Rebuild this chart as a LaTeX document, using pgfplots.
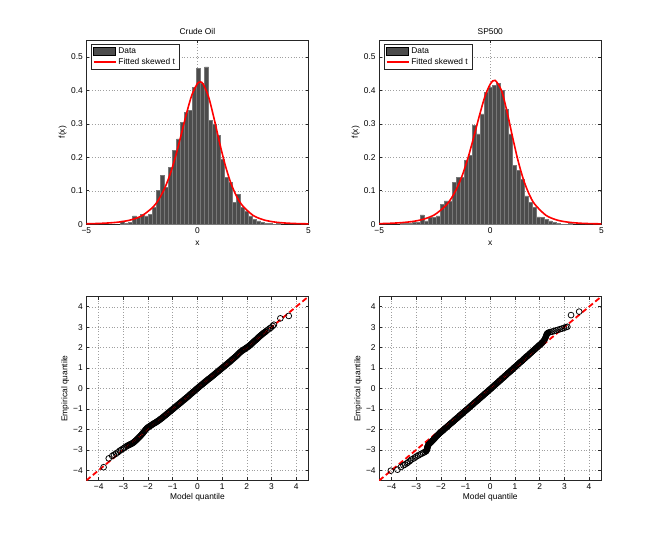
\documentclass[border=0pt]{standalone}
\usepackage{fontspec}
\setmainfont{Liberation Sans}
\usepackage{pgfplots}
\pgfplotsset{compat=1.18}
\usepackage{pgfplotstable}

\definecolor{barfill}{rgb}{0.30,0.30,0.30}
\definecolor{baredge}{rgb}{0.47,0.47,0.47}
\newcommand{\lbl}{\fontsize{8.4}{9.5}\selectfont}

% histogram bins: left edge, density (last row closes the final bin)
\pgfplotstableread{
x y
-3.45 0.010
-3.27 0.003
-3.09 0.005
-2.91 0.025
-2.73 0.020
-2.55 0.030
-2.37 0.025
-2.19 0.030
-2.01 0.050
-1.83 0.100
-1.65 0.145
-1.47 0.110
-1.29 0.170
-1.11 0.220
-0.93 0.255
-0.75 0.305
-0.57 0.335
-0.39 0.340
-0.21 0.410
-0.03 0.465
0.15 0.420
0.33 0.470
0.51 0.310
0.69 0.300
0.87 0.265
1.05 0.195
1.23 0.140
1.41 0.125
1.59 0.065
1.77 0.090
1.95 0.050
2.13 0.040
2.31 0.025
2.49 0.015
2.67 0.010
2.85 0.005
3.03 0.003
3.21 0.002
3.39 0.000
3.57 0.002
3.75 0.000
}\oilhist

\pgfplotstableread{
x y
-4.06 0.002
-3.88 0.003
-3.70 0.003
-3.52 0.005
-3.34 0.005
-3.16 0.028
-2.98 0.010
-2.80 0.020
-2.62 0.020
-2.44 0.025
-2.26 0.060
-2.08 0.070
-1.90 0.070
-1.72 0.125
-1.54 0.140
-1.36 0.140
-1.18 0.190
-1.00 0.205
-0.82 0.295
-0.64 0.270
-0.46 0.330
-0.28 0.395
-0.10 0.410
0.08 0.415
0.26 0.420
0.44 0.400
0.62 0.345
0.80 0.270
0.98 0.175
1.16 0.160
1.34 0.135
1.52 0.085
1.70 0.065
1.88 0.050
2.06 0.022
2.24 0.020
2.42 0.015
2.60 0.010
2.78 0.005
2.96 0.002
3.14 0.000
3.32 0.000
3.50 0.003
3.68 0.000
}\sphist

% fitted skewed t densities
\pgfplotstableread{
x y
-5.00 0.0013
-4.50 0.0021
-4.00 0.0037
-3.50 0.0067
-3.00 0.0128
-2.50 0.0252
-2.00 0.0510
-1.75 0.0729
-1.50 0.1035
-1.25 0.1450
-1.00 0.1984
-0.75 0.2619
-0.50 0.3284
-0.25 0.3860
0.00 0.4202
0.13 0.4250
0.25 0.4200
0.50 0.3811
0.75 0.3159
1.00 0.2431
1.25 0.1770
1.50 0.1240
1.75 0.0850
2.00 0.0577
2.50 0.0266
3.00 0.0126
3.50 0.0063
4.00 0.0033
4.50 0.0018
5.00 0.0010
}\oilfit

\pgfplotstableread{
x y
-5.00 0.0016
-4.50 0.0027
-4.00 0.0046
-3.50 0.0081
-3.00 0.0150
-2.50 0.0286
-2.00 0.0557
-1.75 0.0778
-1.50 0.1080
-1.25 0.1480
-1.00 0.1990
-0.75 0.2590
-0.50 0.3220
-0.25 0.3800
0.00 0.4190
0.21 0.4300
0.50 0.4000
0.75 0.3370
1.00 0.2610
1.25 0.1895
1.50 0.1318
1.75 0.0893
2.00 0.0598
2.50 0.0268
3.00 0.0124
3.50 0.0061
4.00 0.0031
4.50 0.0017
5.00 0.0010
}\spfit

% QQ: model quantile, empirical quantile
\pgfplotstableread{
x y
-3.80 -3.85
-3.59 -3.42
-3.45 -3.30
-3.38 -3.24
-3.30 -3.19
-3.22 -3.12
-3.15 -3.05
-3.09 -3.00
-3.02 -2.95
-2.96 -2.90
-2.90 -2.85
-2.85 -2.81
-2.80 -2.78
-2.75 -2.75
-2.70 -2.72
-2.65 -2.69
-2.60 -2.65
-2.55 -2.60
-2.50 -2.55
-2.45 -2.49
-2.40 -2.43
-2.35 -2.37
-2.30 -2.31
-2.25 -2.24
-2.20 -2.17
-2.15 -2.09
-2.10 -2.02
-2.05 -1.95
-2.00 -1.90
-1.95 -1.86
-1.90 -1.82
-1.85 -1.78
-1.80 -1.74
-1.75 -1.70
-1.70 -1.67
-1.65 -1.63
-1.60 -1.59
-1.55 -1.55
-1.50 -1.50
-1.45 -1.46
-1.40 -1.41
-1.35 -1.36
-1.30 -1.31
-1.25 -1.26
-1.20 -1.21
-1.15 -1.16
-1.10 -1.11
-1.05 -1.06
-1.00 -1.01
-0.95 -0.96
-0.90 -0.91
-0.85 -0.86
-0.80 -0.81
-0.75 -0.76
-0.70 -0.71
-0.65 -0.66
-0.60 -0.61
-0.55 -0.56
-0.50 -0.51
-0.45 -0.46
-0.40 -0.41
-0.35 -0.36
-0.30 -0.30
-0.25 -0.25
-0.20 -0.20
-0.15 -0.15
-0.10 -0.10
-0.05 -0.04
0.00 0.01
0.05 0.06
0.10 0.11
0.15 0.16
0.20 0.21
0.25 0.26
0.30 0.31
0.35 0.36
0.40 0.41
0.45 0.46
0.50 0.50
0.55 0.55
0.60 0.60
0.65 0.65
0.70 0.70
0.75 0.75
0.80 0.80
0.85 0.85
0.90 0.90
0.95 0.95
1.00 1.00
1.05 1.05
1.10 1.10
1.15 1.15
1.20 1.20
1.25 1.25
1.30 1.30
1.35 1.35
1.40 1.41
1.45 1.46
1.50 1.51
1.55 1.56
1.60 1.62
1.65 1.68
1.70 1.74
1.75 1.79
1.80 1.84
1.85 1.88
1.90 1.92
1.95 1.96
2.00 2.00
2.05 2.04
2.10 2.09
2.15 2.14
2.20 2.19
2.25 2.25
2.30 2.31
2.35 2.36
2.40 2.41
2.45 2.47
2.50 2.53
2.55 2.58
2.60 2.63
2.65 2.68
2.70 2.73
2.75 2.77
2.80 2.82
2.86 2.88
2.93 2.94
2.98 2.98
3.05 3.06
3.10 3.12
3.36 3.43
3.70 3.55
}\oilqq

\pgfplotstableread{
x y
-4.03 -4.02
-3.76 -3.97
-3.62 -3.84
-3.52 -3.76
-3.46 -3.72
-3.38 -3.66
-3.33 -3.61
-3.26 -3.55
-3.20 -3.48
-3.12 -3.43
-3.05 -3.37
-2.99 -3.32
-2.92 -3.28
-2.85 -3.23
-2.79 -3.19
-2.72 -3.15
-2.66 -3.11
-2.60 -3.07
-2.58 -3.02
-2.56 -2.96
-2.55 -2.90
-2.54 -2.84
-2.52 -2.79
-2.50 -2.74
-2.45 -2.68
-2.40 -2.62
-2.35 -2.56
-2.30 -2.50
-2.25 -2.43
-2.20 -2.36
-2.15 -2.30
-2.10 -2.24
-2.05 -2.18
-2.00 -2.13
-1.95 -2.08
-1.90 -2.03
-1.85 -1.97
-1.80 -1.92
-1.75 -1.87
-1.70 -1.82
-1.65 -1.76
-1.60 -1.71
-1.55 -1.66
-1.50 -1.61
-1.45 -1.55
-1.40 -1.50
-1.35 -1.45
-1.30 -1.40
-1.25 -1.34
-1.20 -1.29
-1.15 -1.24
-1.10 -1.19
-1.05 -1.13
-1.00 -1.08
-0.95 -1.03
-0.90 -0.98
-0.85 -0.92
-0.80 -0.87
-0.75 -0.82
-0.70 -0.77
-0.65 -0.71
-0.60 -0.66
-0.55 -0.61
-0.50 -0.56
-0.45 -0.50
-0.40 -0.45
-0.35 -0.40
-0.30 -0.35
-0.25 -0.29
-0.20 -0.24
-0.15 -0.19
-0.10 -0.14
-0.05 -0.08
0.00 -0.03
0.05 0.02
0.10 0.08
0.15 0.13
0.20 0.19
0.25 0.24
0.30 0.29
0.35 0.35
0.40 0.40
0.45 0.46
0.50 0.51
0.55 0.56
0.60 0.62
0.65 0.67
0.70 0.73
0.75 0.78
0.80 0.83
0.85 0.89
0.90 0.94
0.95 1.00
1.00 1.05
1.05 1.10
1.10 1.16
1.15 1.21
1.20 1.27
1.25 1.32
1.30 1.37
1.35 1.43
1.40 1.48
1.45 1.54
1.50 1.59
1.55 1.64
1.60 1.70
1.65 1.75
1.70 1.81
1.75 1.86
1.80 1.91
1.85 1.97
1.90 2.02
1.95 2.08
2.00 2.13
2.05 2.18
2.10 2.24
2.15 2.31
2.20 2.40
2.24 2.50
2.27 2.60
2.30 2.68
2.35 2.73
2.42 2.76
2.50 2.78
2.58 2.81
2.66 2.84
2.74 2.87
2.82 2.90
2.90 2.93
2.98 2.96
3.06 3.00
3.12 3.02
3.27 3.59
3.60 3.76
}\spqq

\pgfplotsset{
  matlab/.style={
    scale only axis,
    width=222.2pt, height=184pt,
    tick align=inside, major tick length=3pt,
    grid=major,
    major grid style={gray!75, line width=0.45pt, dash pattern=on 0.6pt off 2.2pt},
    axis line style={black!85, line width=0.55pt},
    every tick/.style={black!85, line width=0.55pt},
    tick label style={font=\lbl},
    label style={font=\lbl},
    title style={font=\lbl, at={(0.5,1)}, anchor=base, yshift=-0.5pt, inner sep=0pt},
    /pgf/number format/assume math mode=true,
  },
  histax/.style={
    matlab,
    xmin=-5, xmax=5, ymin=0, ymax=0.55,
    xtick={-5,0,5}, xticklabels={−5,0,5},
    ytick={0,0.1,0.2,0.3,0.4,0.5},
    yticklabels={0,0.1,0.2,0.3,0.4,0.5},
    xlabel={x}, ylabel={f(x)},
    xlabel style={at={(axis description cs:0.5,0)}, anchor=center, yshift=-19pt, inner sep=0pt},
    ylabel style={at={(axis description cs:0,0.5)}, anchor=center, yshift=23.5pt, xshift=0pt, inner sep=0pt},
    legend style={at={(0.02,0.979)}, anchor=north west, draw=black!85, line width=0.5pt,
      font=\lbl, inner xsep=2pt, inner ysep=1.2pt, row sep=-0.5pt, cells={anchor=west}},
  },
  qqax/.style={
    matlab,
    xmin=-4.5, xmax=4.5, ymin=-4.5, ymax=4.5,
    xtick={-4,-3,-2,-1,0,1,2,3,4}, xticklabels={−4,−3,−2,−1,0,1,2,3,4},
    ytick={-4,-3,-2,-1,0,1,2,3,4}, yticklabels={−4,−3,−2,−1,0,1,2,3,4},
    xlabel={Model quantile}, ylabel={Empirical quantile},
    xlabel style={at={(axis description cs:0.5,0)}, anchor=center, yshift=-17.3pt, inner sep=0pt},
    ylabel style={at={(axis description cs:0,0.5)}, anchor=center, yshift=21pt, xshift=0pt, inner sep=0pt},
  },
  barplot/.style={ybar interval, fill=barfill, draw=baredge, line width=0.5pt,
    legend image code/.code={\draw[fill=barfill, draw=black] (0pt,-3.6pt) rectangle (22pt,3.6pt);}},
  fitplot/.style={red, line width=1.6pt, smooth, tension=0.5,
    legend image code/.code={\draw[red, line width=1.4pt] (0pt,0pt) -- (22pt,0pt);}},
  qqplot/.style={only marks, mark=o, mark size=2.9pt, mark options={black, line width=0.75pt}},
  qqband/.style={black, line width=6pt, line cap=round, line join=round, no marks},
  qqline/.style={red, line width=1.8pt, dash pattern=on 5.5pt off 3pt},
}

\begin{document}
\begin{tikzpicture}
\useasboundingbox (0,0) rectangle (664pt,541pt);

% top left: crude oil density
\begin{axis}[histax, at={(86.3pt,316.8pt)}, anchor=south west, title={Crude Oil}]
  \addplot[barplot] table {\oilhist};
  \addlegendentry{Data}
  \addplot[fitplot] table {\oilfit};
  \addlegendentry{Fitted skewed t}
\end{axis}

% top right: SP500 density
\begin{axis}[histax, at={(379.2pt,316.8pt)}, anchor=south west, title={SP500}]
  \addplot[barplot] table {\sphist};
  \addlegendentry{Data}
  \addplot[fitplot] table {\spfit};
  \addlegendentry{Fitted skewed t}
\end{axis}

% bottom left: crude oil QQ (dense middle of the sample drawn solid)
\begin{axis}[qqax, at={(86.3pt,60.5pt)}, anchor=south west]
  \addplot[qqband, restrict x to domain=-2.81:2.76] table {\oilqq};
  \addplot[qqplot] table {\oilqq};
  \addplot[qqline] coordinates {(-4.5,-4.5) (4.5,4.5)};
\end{axis}

% bottom right: SP500 QQ
\begin{axis}[qqax, at={(379.2pt,60.5pt)}, anchor=south west]
  \addplot[qqband, restrict x to domain=-2.61:2.36] table {\spqq};
  \addplot[qqplot] table {\spqq};
  \addplot[qqline] coordinates {(-4.5,-4.5) (4.5,4.5)};
\end{axis}
\end{tikzpicture}
\end{document}
